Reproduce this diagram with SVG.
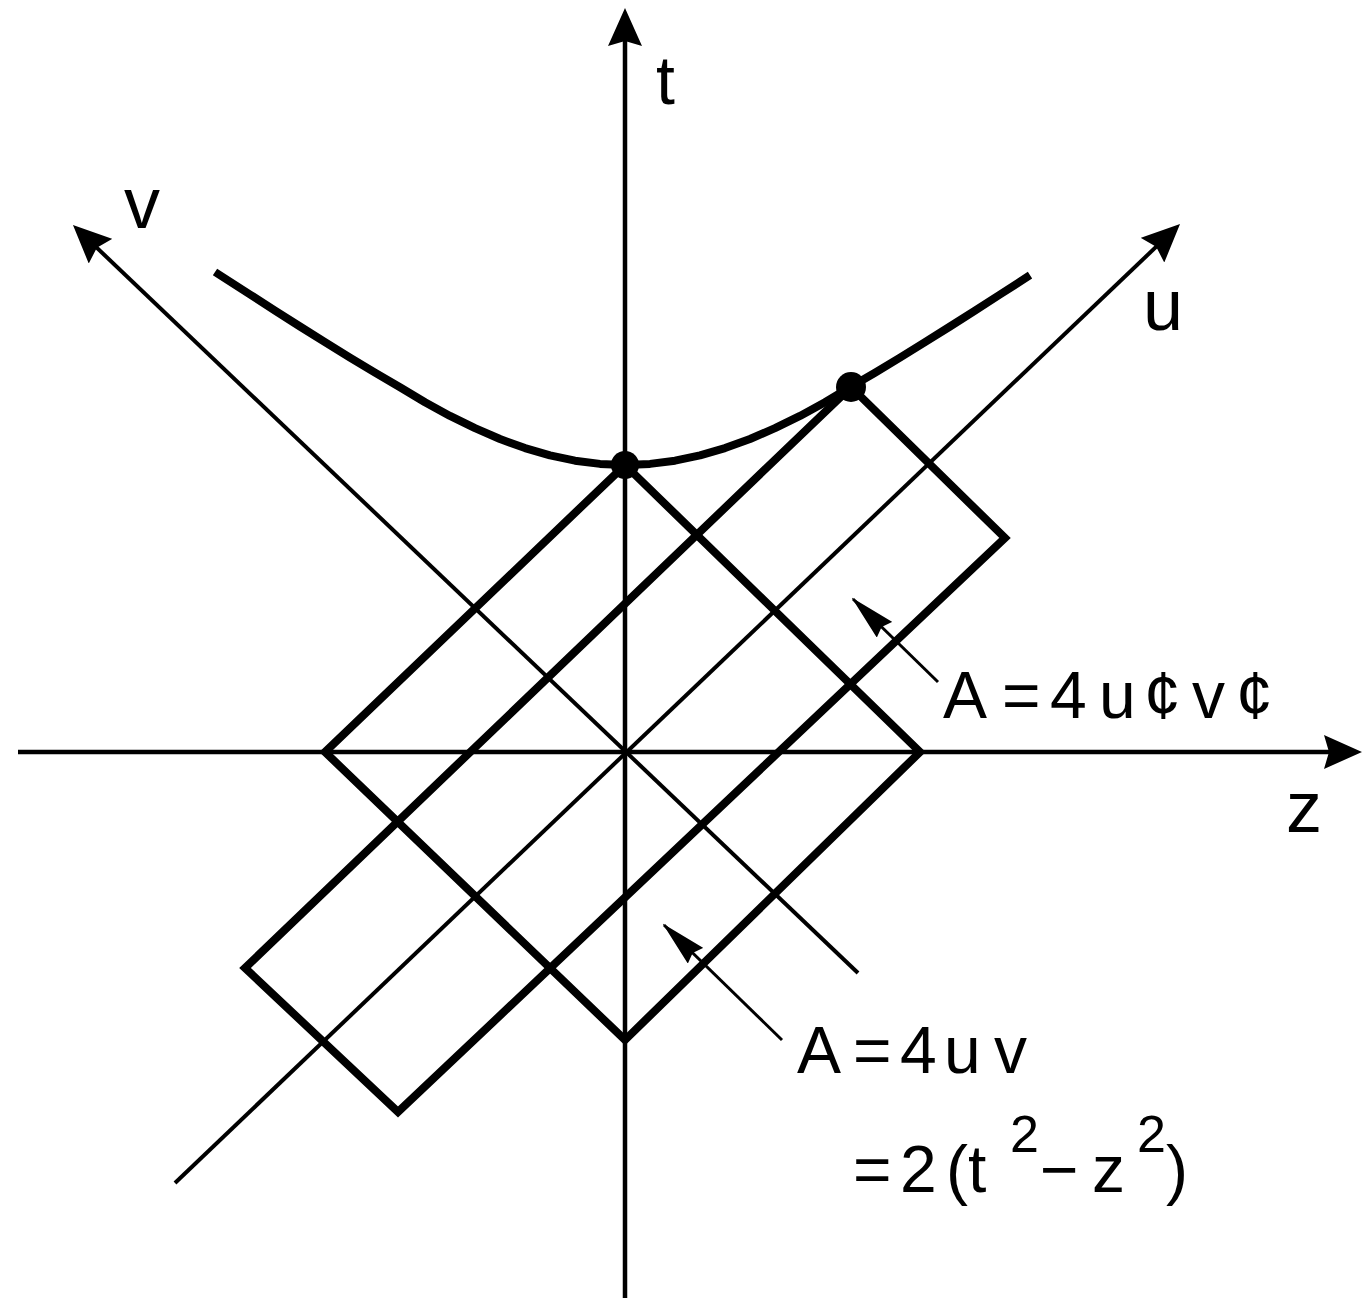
<svg xmlns="http://www.w3.org/2000/svg" width="1366" height="1300" viewBox="0 0 1366 1300">
<style>
  .axis{stroke:#000;stroke-width:4.5;fill:none}
  .thin{stroke:#000;stroke-width:4;fill:none}
  .thick{stroke:#000;stroke-width:8;fill:none;stroke-linejoin:miter}
  .curve{stroke:#000;stroke-width:8;fill:none;stroke-linejoin:round;stroke-linecap:butt}
  .lead{stroke:#000;stroke-width:3;fill:none}
  .lbl{font-family:"Liberation Sans",Arial,sans-serif;fill:#000}
</style>
<defs>
  <marker id="ah" markerUnits="userSpaceOnUse" viewBox="0 0 40 34" markerWidth="40" markerHeight="34" refX="28" refY="17" orient="auto">
    <path d="M38,17 L0,0 L5,17 L0,34 Z" fill="#000"/>
  </marker>
  <marker id="lh" markerUnits="userSpaceOnUse" viewBox="0 0 46 22" markerWidth="46" markerHeight="22" refX="44" refY="11" orient="auto">
    <path d="M46,11 L0,0 L4,11 L0,22 Z" fill="#000"/>
  </marker>
</defs>
<rect width="1366" height="1300" fill="#fff"/>

<g id="connectors">
  <line class="axis" x1="18" y1="752" x2="1352" y2="752" marker-end="url(#ah)"/>
  <line class="axis" x1="625" y1="1298" x2="625" y2="18" marker-end="url(#ah)"/>
  <line class="thin" x1="175" y1="1183" x2="1172.8" y2="230.9" marker-end="url(#ah)"/>
  <line class="thin" x1="858" y1="973" x2="80.2" y2="231.9" marker-end="url(#ah)"/>
  <line class="lead" x1="938" y1="682" x2="853" y2="599" marker-end="url(#lh)"/>
  <line class="lead" x1="782" y1="1040" x2="664" y2="925" marker-end="url(#lh)"/>
</g>

<g id="diamond-inner">
  <polygon class="thick" points="625,465 920,752 625,1040 325,752"/>
</g>
<g id="diamond-outer">
  <polygon class="thick" points="851,387 1005,538 398,1112 245,968"/>
</g>

<g id="hyperbola">
  <polyline class="curve" points="215,272 250,294.5 275,310.6 300,326.5 325,342.2 350,357.6 375,372.7 400,387.3 425,402.2 450,415.9 475,428.2 500,439 525,448.1 550,455.4 575,460.7 600,463.9 625,465 650,463.9 675,460.7 700,455.4 725,448.1 750,439 775,428.2 800,415.9 825,402.2 850,387.3 875,372.7 900,357.6 925,342.2 950,326.5 975,310.6 1000,294.5 1030,275.2"/>
</g>

<g id="event-1"><circle cx="625" cy="465" r="14" fill="#000"/></g>
<g id="event-2"><circle cx="851" cy="387" r="15" fill="#000"/></g>

<g id="label-t"><text class="lbl" x="656" y="104" font-size="68">t</text></g>
<g id="label-v"><text class="lbl" x="124" y="228" font-size="72">v</text></g>
<g id="label-u"><text class="lbl" x="1143" y="330" font-size="72">u</text></g>
<g id="label-z"><text class="lbl" x="1286" y="832" font-size="72">z</text></g>

<g id="label-area-prime">
  <text class="lbl" font-size="66" y="718"><tspan x="943">A</tspan><tspan x="1002">=</tspan><tspan x="1050">4</tspan><tspan x="1099">u</tspan><tspan x="1144">¢</tspan><tspan x="1192">v</tspan><tspan x="1236">¢</tspan></text>
</g>
<g id="label-area">
  <text class="lbl" font-size="66" y="1073"><tspan x="797">A</tspan><tspan x="853">=</tspan><tspan x="900">4</tspan><tspan x="944">u</tspan><tspan x="994">v</tspan></text>
  <text class="lbl" font-size="66" y="1192"><tspan x="853">=</tspan><tspan x="900">2</tspan><tspan x="946">(</tspan><tspan x="968">t</tspan><tspan x="1010" y="1152" font-size="52">2</tspan><tspan x="1040" y="1192">−</tspan><tspan x="1092">z</tspan><tspan x="1137" y="1152" font-size="52">2</tspan><tspan x="1166" y="1192">)</tspan></text>
</g>
</svg>
